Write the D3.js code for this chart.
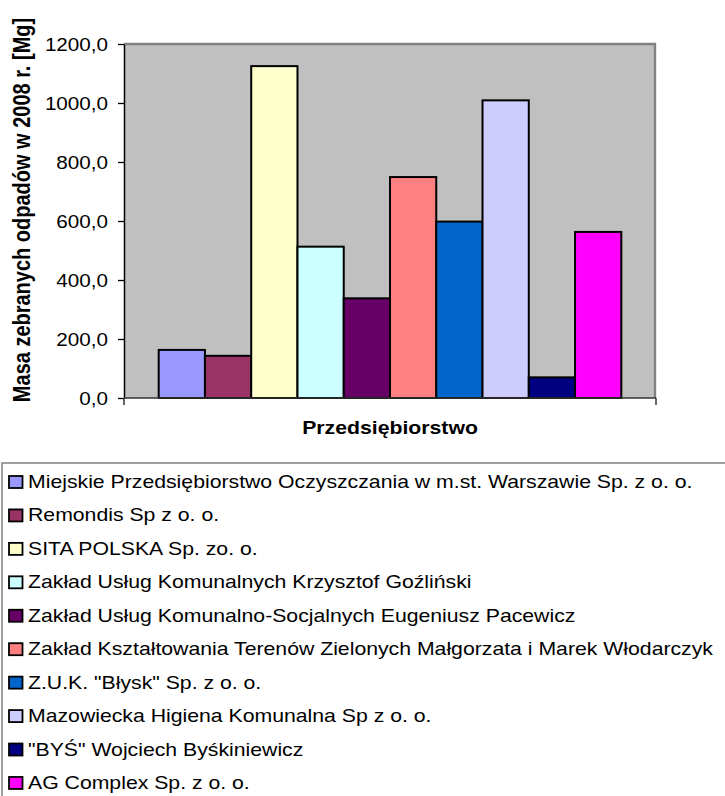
<!DOCTYPE html>
<html>
<head>
<meta charset="utf-8">
<script src="https://cdn.jsdelivr.net/npm/d3@7"></script>
<style>
  body { margin: 0; background: #fff; }
  text { font-family: "Liberation Sans", Arial, sans-serif; fill: #000; }
</style>
</head>
<body>
<svg id="canvas" width="725" height="796"></svg>
<script>
let companies = [
    'Miejskie Przedsiębiorstwo Oczyszczania w m.st. Warszawie Sp. z o. o.',
    'Remondis Sp z o. o.',
    'SITA POLSKA Sp. zo. o.',
    'Zakład Usług Komunalnych Krzysztof Goźliński',
    'Zakład Usług Komunalno-Socjalnych Eugeniusz Pacewicz',
    'Zakład Kształtowania Terenów Zielonych Małgorzata i Marek Włodarczyk',
    'Z.U.K. "Błysk" Sp. z o. o.',
    'Mazowiecka Higiena Komunalna Sp z o. o.',
    '"BYŚ" Wojciech Byśkiniewicz',
    'AG Complex Sp. z o. o.'
]
let masses = [163, 143, 1125, 513, 338, 749, 598, 1009, 70, 563]
let colors = ['#9999FF', '#993366', '#FFFFCC', '#CCFFFF', '#660066', '#FF8080', '#0066CC', '#CCCCFF', '#000080', '#FF00FF']
let yTicks = [0, 200, 400, 600, 800, 1000, 1200]
let yTitle = 'Masa zebranych odpadów w 2008 r.  [Mg]'
let xTitle = 'Przedsiębiorstwo'

// the original picture is stretched sideways a bit
let stretch = 1.18
let font = '"Liberation Sans", Arial, sans-serif'

let svg = d3.select('#canvas')

let plot = {left: 124, right: 656, top: 44, bottom: 398}

let xScale = d3.scaleBand()
    .domain(companies)
    .range([plot.left, plot.right])
    .paddingInner(0)
    .paddingOuter(0.75)

let yScale = d3.scaleLinear()
    .domain([0, 1200])
    .range([plot.bottom, plot.top])

let fmt = d3.formatLocale({decimal: ',', thousands: '', grouping: [3], currency: ['', '']}).format('.1f')

// plot background + grey frame top/right
svg.append('rect')
   .attr('x', plot.left)
   .attr('y', plot.top)
   .attr('width', plot.right - plot.left)
   .attr('height', plot.bottom - plot.top)
   .attr('fill', '#C0C0C0')

svg.append('path')
   .attr('d', `M${plot.left},${plot.top}H${plot.right - 1}V${plot.bottom}`)
   .attr('fill', 'none')
   .attr('stroke', '#808080')
   .attr('stroke-width', 2.4)

// bars
svg.selectAll('.bar')
   .data(masses)
   .enter()
   .append('rect')
   .attr('class', 'bar')
   .attr('x', (d, i) => xScale(companies[i]))
   .attr('y', (d) => yScale(d))
   .attr('width', xScale.bandwidth())
   .attr('height', (d) => yScale(0) - yScale(d))
   .attr('fill', (d, i) => colors[i])
   .attr('stroke', '#000')
   .attr('stroke-width', 2)

// y axis
let yAxis = svg.append('g')
   .attr('transform', `translate(${plot.left},0)`)
   .call(d3.axisLeft(yScale).tickValues(yTicks).tickFormat(fmt).tickSize(6).tickSizeOuter(0))

yAxis.attr('font-family', font)
yAxis.select('.domain').attr('stroke', '#000').attr('stroke-width', 1.5)
yAxis.selectAll('.tick line').attr('stroke', '#000').attr('stroke-width', 1.3)
yAxis.selectAll('.tick text')
     .attr('x', null)
     .attr('dy', '0.35em')
     .attr('transform', `translate(-16,0) scale(${stretch},1)`)
     .style('font-size', '17.5px')
     .style('font-family', font)
     .attr('fill', '#000')

// x axis: baseline with ticks at both edges of the single category
let xEdges = xScale.range()
svg.append('path')
   .attr('d', `M${xEdges[0]},${plot.bottom}H${xEdges[1]}` +
              xEdges.map((x) => `M${x},${plot.bottom}V${plot.bottom + 7}`).join(''))
   .attr('fill', 'none')
   .attr('stroke', '#333')
   .attr('stroke-width', 1.5)

// axis titles
svg.append('text')
   .attr('transform', `translate(${(plot.left + plot.right) / 2},434) scale(${stretch},1)`)
   .attr('text-anchor', 'middle')
   .style('font-family', font)
   .style('font-size', '18px')
   .style('font-weight', 'bold')
   .text(xTitle)

svg.append('text')
   .attr('transform', `translate(30,210) rotate(-90) scale(1,${stretch})`)
   .attr('text-anchor', 'middle')
   .style('font-family', font)
   .style('font-size', '20px')
   .style('font-weight', 'bold')
   .text(yTitle)

// legend
let legend = {x: 2, y: 463, rowTop: 482, rowStep: 33.44}

svg.append('rect')
   .attr('x', legend.x)
   .attr('y', legend.y)
   .attr('width', 760)
   .attr('height', 400)
   .attr('fill', '#fff')
   .attr('stroke', '#808080')
   .attr('stroke-width', 1.5)

let rows = svg.selectAll('.legend-row')
   .data(companies)
   .enter()
   .append('g')
   .attr('class', 'legend-row')
   .attr('transform', (d, i) => `translate(0,${legend.rowTop + i * legend.rowStep})`)

rows.append('rect')
    .attr('x', 9)
    .attr('y', -6)
    .attr('width', 13.5)
    .attr('height', 12)
    .attr('fill', (d, i) => colors[i])
    .attr('stroke', '#000')
    .attr('stroke-width', 1.8)

rows.append('text')
    .attr('transform', `translate(28,6) scale(${stretch},1)`)
    .style('font-family', font)
    .style('font-size', '18px')
    .text((d) => d)
</script>
</body>
</html>
